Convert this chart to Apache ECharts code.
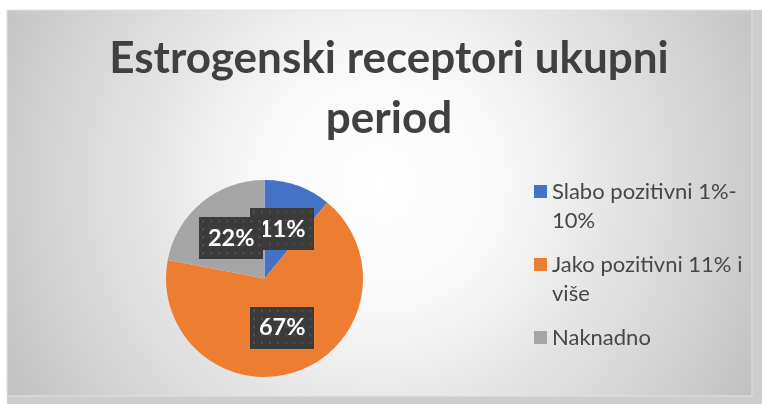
<!DOCTYPE html>
<html>
<head>
<meta charset="utf-8">
<script src="https://cdn.jsdelivr.net/npm/echarts@6/dist/echarts.min.js"></script>
<style>
  html, body { margin: 0; padding: 0; background: #fff; }
  #chart { width: 762px; height: 404px; }
</style>
</head>
<body>
<div id="chart"></div>
<script>
  var categories = ['Slabo pozitivni 1%-10%', 'Jako pozitivni 11% i više', 'Naknadno'];
  // leading blank line keeps the first text line level with the legend square
  var legendLines = ['\nSlabo pozitivni 1%-\n10%', '\nJako pozitivni 11% i\nviše', '\nNaknadno\n '];
  var shares = [11, 67, 22];
  var colors = ['#4472C4', '#ED7D31', '#A5A5A5'];

  // dotted dark box behind the data labels
  function labelTexture(w, h) {
    var c = document.createElement('canvas');
    c.width = w; c.height = h;
    var ctx = c.getContext('2d');
    ctx.fillStyle = '#3b3b3b';
    ctx.fillRect(0, 0, w, h);
    ctx.fillStyle = 'rgba(255,255,255,0.13)';
    for (var y = 3; y < h; y += 8) {
      for (var x = 3; x < w; x += 8) ctx.fillRect(x, y, 2, 2);
    }
    return c;
  }

  var chart = echarts.init(document.getElementById('chart'));
  chart.setOption({
    backgroundColor: '#fff',
    animation: false,
    graphic: [
      { type: 'rect', z: -10, silent: true,
        shape: { x: 7, y: 10, width: 755, height: 394 },
        style: { fill: '#cdcdcd' } },
      { type: 'rect', z: -9, silent: true,
        shape: { x: 7, y: 10, width: 745, height: 386 },
        style: {
          fill: new echarts.graphic.RadialGradient(0.5, 0.45, 1.1, [
            { offset: 0, color: '#ffffff' },
            { offset: 0.3, color: '#f8f8f8' },
            { offset: 1, color: '#c2c2c2' }
          ]),
          stroke: '#e2e2e2', lineWidth: 1
        } }
    ],
    title: {
      text: 'Estrogenski receptori ukupni\nperiod',
      left: 389,
      top: 29,
      textAlign: 'center',
      padding: 0,
      textStyle: {
        fontFamily: 'Lato',
        fontWeight: 'bold',
        fontSize: 44,
        lineHeight: 60,
        color: '#404040'
      }
    },
    legend: {
      orient: 'vertical',
      left: 534,
      top: 148,
      padding: 0,
      itemWidth: 13,
      itemHeight: 13,
      itemGap: -14,
      icon: 'rect',
      data: categories,
      formatter: function (name) { return legendLines[categories.indexOf(name)]; },
      textStyle: {
        fontFamily: 'Lato',
        fontSize: 22,
        lineHeight: 29,
        color: '#474747'
      }
    },
    series: [{
      type: 'pie',
      center: [264.5, 278.5],
      radius: 98.5,
      startAngle: 90,
      clockwise: true,
      avoidLabelOverlap: false,
      color: colors,
      itemStyle: { borderWidth: 0 },
      label: {
        position: 'inside',
        formatter: '{c}%',
        fontFamily: 'Lato',
        fontWeight: 'bold',
        fontSize: 23.5,
        color: '#fff',
        lineHeight: 28,
        padding: [7, 9],
        backgroundColor: { image: labelTexture(64, 42) },
        shadowColor: 'rgba(0,0,0,0.45)',
        shadowBlur: 5,
        shadowOffsetX: 3,
        shadowOffsetY: 3
      },
      labelLine: { show: false },
      labelLayout: { hideOverlap: false },
      emphasis: { disabled: true },
      data: categories.map(function (n, i) { return { name: n, value: shares[i] }; })
    }]
  });
</script>
</body>
</html>
